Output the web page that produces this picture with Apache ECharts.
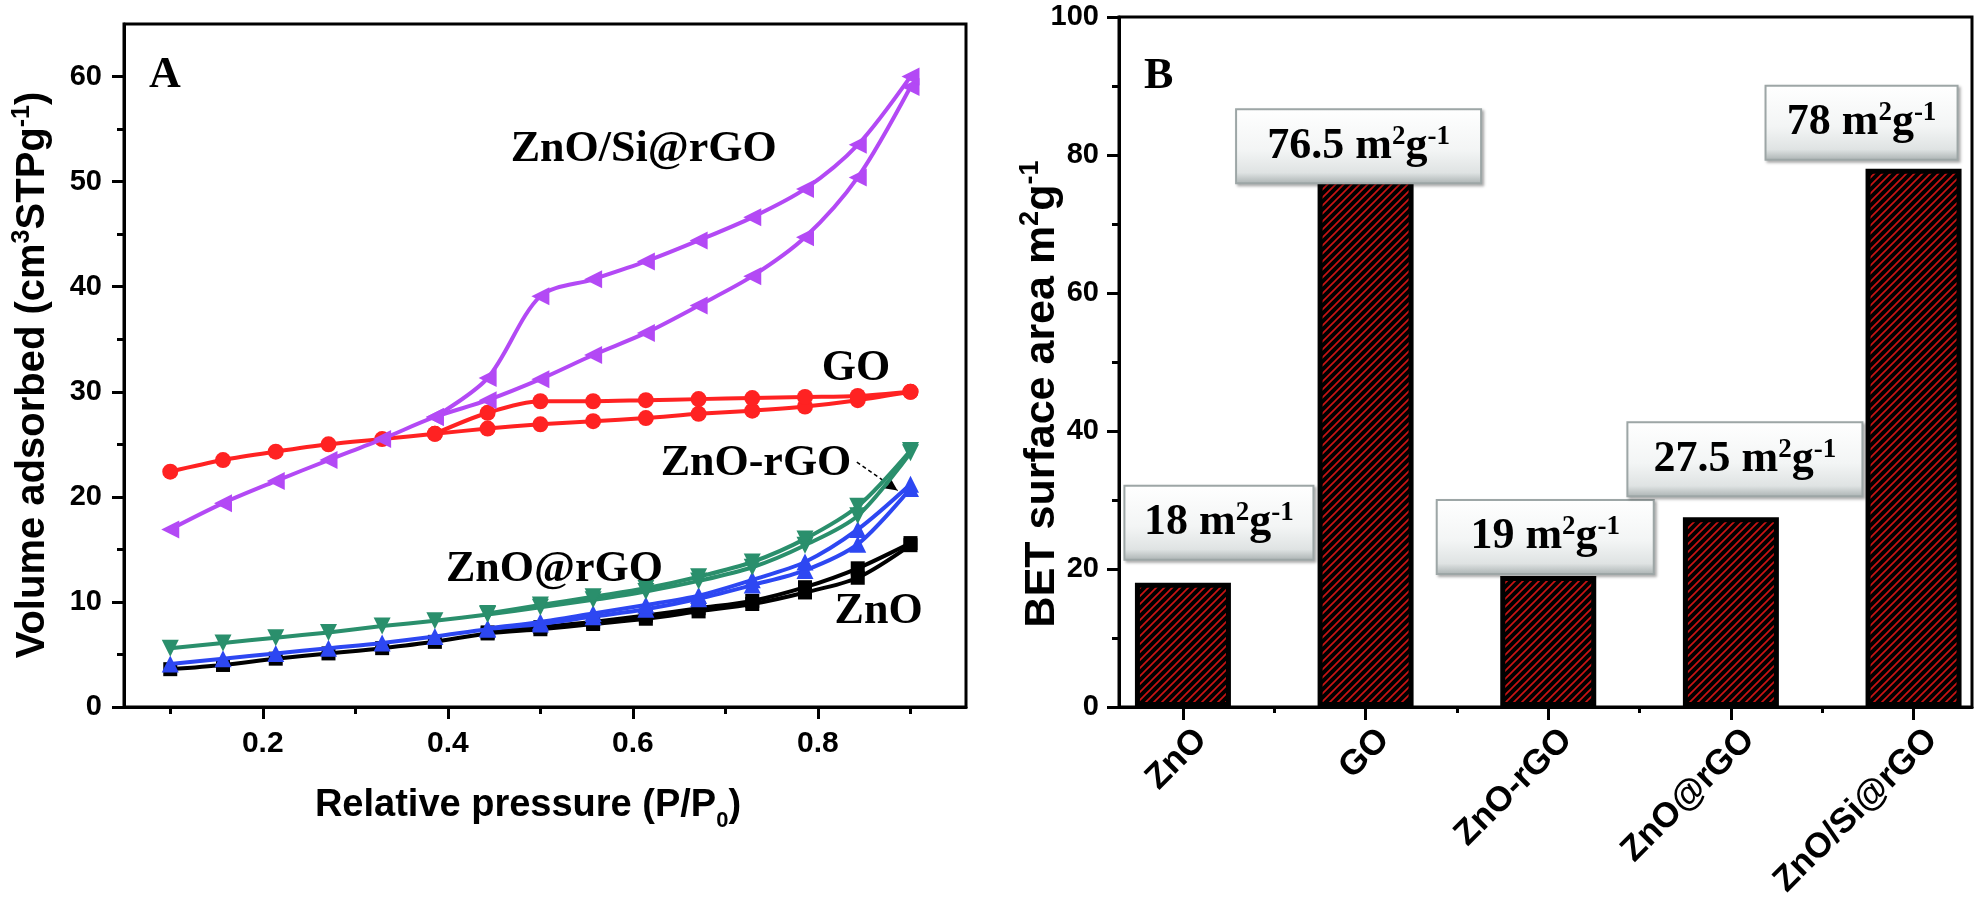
<!DOCTYPE html>
<html><head><meta charset="utf-8">
<script src="https://cdn.jsdelivr.net/npm/echarts@6/dist/echarts.min.js"></script>
<style>html,body{margin:0;padding:0;background:#fff}#c{width:1980px;height:899px}</style>
</head><body><div id="c"></div>
<script>
// ---------- DATA (panel A: N2 isotherms) ----------
const pressure = [0.10,0.157,0.214,0.271,0.329,0.386,0.443,0.50,0.557,0.614,0.671,0.729,0.786,0.843,0.90];
const GO_ads   = [22.4,23.5,24.3,25.0,25.5,26.0,26.5,26.9,27.2,27.5,27.9,28.2,28.6,29.2,30.0];
const GO_des   = [null,null,null,null,null,26.0,28.0,29.1,29.1,29.2,29.3,29.4,29.5,29.6,30.0];
const ZnOSi_ads = [16.9,19.4,21.5,23.5,25.5,27.6,29.2,31.2,33.5,35.6,38.2,41.0,44.7,50.4,59.0];
const ZnOSi_des = [null,null,null,null,null,27.6,31.3,39.1,40.7,42.4,44.4,46.6,49.3,53.5,60.0];
const ZnO_ads  = [3.6,4.0,4.6,5.1,5.6,6.2,7.0,7.4,7.9,8.4,9.1,9.8,10.9,12.3,15.4];
const ZnO_des  = [null,null,null,null,null,null,7.1,7.6,8.1,8.7,9.4,10.1,11.4,13.2,15.6];
const ZnOatrGO_ads = [5.6,6.1,6.6,7.1,7.7,8.2,8.8,9.5,10.2,11.0,12.0,13.3,15.4,18.2,24.2];
const ZnOatrGO_des = [null,null,null,null,null,null,8.9,9.7,10.5,11.3,12.4,13.8,16.0,19.1,24.4];
const ZnOrGO_ads = [4.1,4.6,5.1,5.6,6.1,6.7,7.4,7.9,8.6,9.3,10.3,11.6,13.0,15.5,20.8];
const ZnOrGO_des = [null,null,null,null,null,null,7.5,8.1,8.9,9.7,10.6,12.1,13.8,16.9,21.2];
const xTicksMajorA = [0.2,0.4,0.6,0.8];
const xTicksMinorA = [0.1,0.3,0.5,0.7,0.9];
const yTicksMajorA = [0,10,20,30,40,50,60];
const yTicksMinorA = [5,15,25,35,45,55];
// ---------- DATA (panel B: BET surface area) ----------
const samples = ['ZnO','GO','ZnO-rGO','ZnO@rGO','ZnO/Si@rGO'];
const betArea = [18,76.5,19,27.5,78];
const catPos = [1,2,3,4,5];
const catMinor = [1.5,2.5,3.5,4.5];

// ---------- layout / style (not data) ----------
const SANS = '"Liberation Sans", Arial, sans-serif';
const SERIF = '"Liberation Serif", "Times New Roman", serif';
const annA = [
  {t:'A', x:0.077, y:60.1},
  {t:'ZnO/Si@rGO', x:0.468, y:53.0},
  {t:'GO', x:0.804, y:32.2},
  {t:'ZnO-rGO', x:0.630, y:23.2},
  {t:'ZnO@rGO', x:0.398, y:13.1},
  {t:'ZnO', x:0.818, y:9.1}
];
const boxLayout = [
  {dx:36, gap:24, w:155},
  {dx:-7, gap:-3, w:211},
  {dx:-3, gap:3, w:183},
  {dx:14, gap:22, w:201},
  {dx:-52, gap:10, w:158}
];

function hatch(){
  const c=document.createElement('canvas'); c.width=8; c.height=8;
  const g=c.getContext('2d'); g.fillStyle='#000'; g.fillRect(0,0,8,8);
  g.strokeStyle='#c81414'; g.lineWidth=1.7;
  g.beginPath(); g.moveTo(-1,9); g.lineTo(9,-1); g.moveTo(-1,1); g.lineTo(1,-1); g.moveTo(7,9); g.lineTo(9,7); g.stroke();
  return c;
}
const pat = {image: hatch(), repeat:'repeat'};

function pts(ys){ return pressure.map((x,i)=>[x, ys[i]]); }
function lineSeries(ys, color, symbol, rot, size, z){
  return {type:'line', xAxisIndex:0, yAxisIndex:0, data:pts(ys), smooth:0.3,
    symbol:symbol, symbolRotate:rot, symbolSize:size, showSymbol:true,
    lineStyle:{color:color, width:4}, itemStyle:{color:color}, z:z, silent:true, animation:false};
}

const chart = echarts.init(document.getElementById('c'), null, {renderer:'canvas', width:1980, height:899});
const tickLabel = {color:'#000', fontFamily:SANS, fontWeight:'bold', fontSize:29};

const option = {
  animation:false,
  backgroundColor:'#fff',
  grid:[
    {left:124, top:24, width:842, height:683, show:true, borderColor:'#000', borderWidth:3,
     containLabel:false, outerBoundsMode:'none'},
    {left:1119, top:17, width:853, height:690, show:true, borderColor:'#000', borderWidth:3,
     containLabel:false, outerBoundsMode:'none'}
  ],
  xAxis:[
    {type:'value', gridIndex:0, min:0.05, max:0.96, position:'bottom',
     axisLine:{show:true, onZero:false, lineStyle:{color:'#000', width:3}},
     axisTick:{show:true, customValues:xTicksMajorA, length:12, lineStyle:{color:'#000', width:3}},
     axisLabel:Object.assign({}, tickLabel, {customValues:xTicksMajorA, margin:22, fontSize:30, formatter:v=>v.toFixed(1)}),
     splitLine:{show:false}
    },
    {type:'value', gridIndex:0, min:0.05, max:0.96, position:'bottom',
     axisLine:{show:false, onZero:false},
     axisTick:{show:true, customValues:xTicksMinorA, length:7, lineStyle:{color:'#000', width:3}},
     axisLabel:{show:false}, splitLine:{show:false}},
    {type:'value', gridIndex:1, min:0.65, max:5.32, position:'bottom',
     axisLine:{show:true, onZero:false, lineStyle:{color:'#000', width:3}},
     axisTick:{show:true, customValues:catPos, length:13, lineStyle:{color:'#000', width:3}},
     axisLabel:Object.assign({}, tickLabel, {customValues:catPos, rotate:45, margin:9, fontSize:35,
        formatter:v=>'{c|'+samples[Math.round(v)-1]+'}',
        rich:{c:{fontFamily:SANS, fontWeight:'bold', fontSize:35, color:'#000', padding:[52,0,0,0]}}}),
     splitLine:{show:false}},
    {type:'value', gridIndex:1, min:0.65, max:5.32, position:'bottom',
     axisLine:{show:false, onZero:false},
     axisTick:{show:true, customValues:catMinor, length:6, lineStyle:{color:'#000', width:3}},
     axisLabel:{show:false}, splitLine:{show:false}}
  ],
  yAxis:[
    {type:'value', gridIndex:0, min:0, max:65, position:'left',
     axisLine:{show:true, onZero:false, lineStyle:{color:'#000', width:3}},
     axisTick:{show:true, customValues:yTicksMajorA, length:12, lineStyle:{color:'#000', width:3}},
     axisLabel:Object.assign({}, tickLabel, {customValues:yTicksMajorA, margin:22}),
     splitLine:{show:false}
    },
    {type:'value', gridIndex:0, min:0, max:65, position:'left',
     axisLine:{show:false, onZero:false},
     axisTick:{show:true, customValues:yTicksMinorA, length:7, lineStyle:{color:'#000', width:3}},
     axisLabel:{show:false}, splitLine:{show:false}},
    {type:'value', gridIndex:1, min:0, max:100, interval:20, position:'left',
     axisLine:{show:true, onZero:false, lineStyle:{color:'#000', width:3}},
     axisTick:{show:true, length:12, lineStyle:{color:'#000', width:3}},
     minorTick:{show:true, splitNumber:2, length:7, lineStyle:{color:'#000', width:3}},
     axisLabel:Object.assign({}, tickLabel, {margin:20}),
     splitLine:{show:false}
    }
  ],
  series:[
    lineSeries(GO_ads, '#ff2222', 'circle', 0, 16, 2),
    lineSeries(GO_des, '#ff2222', 'circle', 0, 16, 2),
    lineSeries(ZnOSi_ads, '#b349f5', 'triangle', 90, 18, 3),
    lineSeries(ZnOSi_des, '#b349f5', 'triangle', 90, 18, 3),
    lineSeries(ZnO_ads, '#000000', 'rect', 0, 14, 4),
    lineSeries(ZnO_des, '#000000', 'rect', 0, 14, 4),
    lineSeries(ZnOrGO_ads, '#2d47f2', 'triangle', 0, 17, 5),
    lineSeries(ZnOrGO_des, '#2d47f2', 'triangle', 0, 17, 5),
    lineSeries(ZnOatrGO_ads, '#2a8f6c', 'triangle', 180, 17, 6),
    Object.assign(lineSeries(ZnOatrGO_des, '#2a8f6c', 'triangle', 180, 17, 6), {
      markLine:{silent:true, symbol:['none','arrow'], symbolSize:[10,14],
        lineStyle:{color:'#000', width:1.5, type:[4,3]}, label:{show:false},
        data:[[{coord:[0.842,23.3]},{coord:[0.886,20.6]}]]}
    }),
    {type:'bar', xAxisIndex:2, yAxisIndex:2, barWidth:96, z:3, silent:true,
     data: betArea.map((v,i)=>({
       value:[catPos[i], v],
       label:{offset:[boxLayout[i].dx, -boxLayout[i].gap], width:boxLayout[i].w}
     })),
     itemStyle:{color:pat, borderColor:'#000', borderWidth:5},
     label:{show:true, position:'top', distance:0, align:'center',
       formatter:p=>'{n|'+p.value[1]+' m}{s|2}{n|g}{s|-1}',
       padding:[13,16,13,16],
       backgroundColor:new echarts.graphic.LinearGradient(0,0,0,1,[
         {offset:0,color:'#ffffff'},{offset:0.55,color:'#f3f5f5'},{offset:0.85,color:'#dfe3e3'},{offset:1,color:'#a9b1b1'}]),
       borderColor:'#9da6a6', borderWidth:2,
       shadowColor:'rgba(0,0,0,0.35)', shadowBlur:3, shadowOffsetX:2, shadowOffsetY:2,
       rich:{
         n:{fontFamily:SERIF, fontWeight:'bold', fontSize:44, lineHeight:46, color:'#000'},
         s:{fontFamily:SERIF, fontWeight:'bold', fontSize:27, lineHeight:46, verticalAlign:'top', color:'#000'}
       }}
    }
  ]
};
chart.setOption(option);

function titleText(x, y, rot, text, size, mainLH, smallSize, smallLH, smallAlign){
  return {type:'text', x:x, y:y, rotation:rot, silent:true, z:50,
    style:{text:text, fill:'#000', font:'bold '+size+'px '+SANS,
      align:'center', verticalAlign:'middle', textAlign:'center', textVerticalAlign:'middle',
      rich:{
        m:{fontFamily:SANS, fontWeight:'bold', fontSize:size, lineHeight:mainLH, fill:'#000', color:'#000'},
        k:{fontFamily:SANS, fontWeight:'bold', fontSize:smallSize, lineHeight:smallLH, verticalAlign:smallAlign, fill:'#000', color:'#000'}
      }}};
}

function placeAnnotations(){
  const g = annA.map(a=>{
    const p = chart.convertToPixel({xAxisIndex:0, yAxisIndex:0}, [a.x, a.y]);
    return {type:'text', x:p[0], y:p[1], silent:true, z:50,
      style:{text:a.t, font:'bold 44px '+SERIF, fill:'#000', align:'left', verticalAlign:'middle',
             textAlign:'left', textVerticalAlign:'middle'}};
  });
  const pb = chart.convertToPixel({xAxisIndex:2, yAxisIndex:2}, [0.787, 91.4]);
  g.push({type:'text', x:pb[0], y:pb[1], silent:true, z:50,
    style:{text:'B', font:'bold 44px '+SERIF, fill:'#000', align:'left', verticalAlign:'middle',
           textAlign:'left', textVerticalAlign:'middle'}});
  // axis titles
  g.push(titleText(33, 375, Math.PI/2, '{m|Volume adsorbed (cm}{k|3}{m|STPg}{k|-1}{m|)}', 40, 46, 25, 46, 'top'));
  g.push(titleText(1042, 394, Math.PI/2, '{m|BET surface area m}{k|2}{m|g}{k|-1}', 43, 49, 27, 49, 'top'));
  g.push(titleText(528, 806, 0, '{m|Relative pressure (P/P}{k|0}{m|)}', 38, 52, 22, 10, 'bottom'));
  chart.setOption({graphic:g});
}
placeAnnotations();
</script>
</body></html>
